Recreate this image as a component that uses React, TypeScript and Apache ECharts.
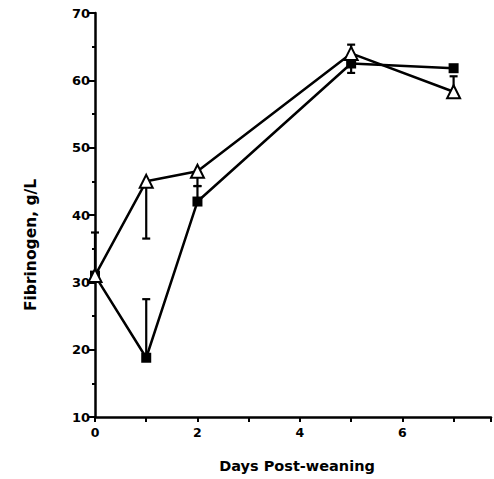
import React, { useEffect, useRef } from "react";
import * as echarts from "echarts";

const days = [0, 1, 2, 5, 7];
const triangleValues = [31, 45, 46.5, 64, 58.3];
const squareValues = [31, 18.8, 42, 62.5, 61.8];
const triangleErrEnd = [37.4, 36.5, 44.3, 65.3, 60.6];
const squareErrEnd = [null, 27.5, 44.3, 61.1, null];
const yTicks = [10, 20, 30, 40, 50, 60, 70];
const xLabelDays = [0, 2, 4, 6];

const FONT = "DejaVu Sans";

export default function App() {
  const ref = useRef<HTMLDivElement>(null);
  useEffect(() => {
    if (!ref.current) return;
    const chart = echarts.init(ref.current, undefined, { renderer: "svg" });

    const errData = (vals: number[], ends: (number | null)[]) =>
      days
        .map((d, i) => (ends[i] == null ? null : [d, vals[i], ends[i]]))
        .filter((x) => x != null);

    const renderErr = (params: any, api: any) => {
      const x = api.value(0);
      const p1 = api.coord([x, api.value(1)]);
      const p2 = api.coord([x, api.value(2)]);
      const cw = 4;
      return {
        type: "group",
        children: [
          {
            type: "line",
            shape: { x1: p1[0], y1: p1[1], x2: p2[0], y2: p2[1] },
            style: { stroke: "#000", lineWidth: 2.2 },
          },
          {
            type: "line",
            shape: { x1: p2[0] - cw, y1: p2[1], x2: p2[0] + cw, y2: p2[1] },
            style: { stroke: "#000", lineWidth: 2.2 },
          },
        ],
      };
    };

    chart.setOption({
      animation: false,
      backgroundColor: "#fff",
      grid: { left: 95, top: 13, right: 0, bottom: 62, containLabel: false },
      xAxis: {
        type: "value",
        min: 0,
        max: 7.73,
        interval: 1,
        axisLine: { show: true, lineStyle: { color: "#000", width: 2.5 } },
        axisTick: { show: true, length: 5, lineStyle: { color: "#000", width: 2 } },
        splitLine: { show: false },
        axisLabel: {
          color: "#000",
          fontFamily: FONT,
          fontWeight: "bold",
          fontSize: 12.5,
          margin: 9,
          formatter: (v: number) => (xLabelDays.includes(v) ? String(v) : ""),
        },
      },
      yAxis: {
        type: "value",
        min: yTicks[0],
        max: yTicks[yTicks.length - 1],
        interval: 10,
        axisLine: { show: true, lineStyle: { color: "#000", width: 2.5 } },
        axisTick: { show: true, length: 6, lineStyle: { color: "#000", width: 2 } },
        minorTick: { show: true, splitNumber: 2, length: 3, lineStyle: { color: "#000", width: 2 } },
        splitLine: { show: false },
        axisLabel: {
          color: "#000",
          fontFamily: FONT,
          fontWeight: "bold",
          fontSize: 13,
          margin: 5,
        },
      },
      graphic: [
        {
          type: "text",
          x: 297,
          y: 466,
          style: {
            text: "Days Post-weaning",
            fontFamily: FONT,
            fontWeight: "bold",
            fontSize: 14.5,
            fill: "#000",
            align: "center",
            verticalAlign: "middle",
          },
        },
        {
          type: "text",
          x: 31,
          y: 245,
          rotation: Math.PI / 2,
          style: {
            text: "Fibrinogen, g/L",
            fontFamily: FONT,
            fontWeight: "bold",
            fontSize: 15.5,
            fill: "#000",
            align: "center",
            verticalAlign: "middle",
          },
        },
      ],
      series: [
        {
          type: "custom",
          renderItem: renderErr,
          data: errData(squareValues, squareErrEnd),
          encode: { x: 0, y: [1, 2] },
          z: 1,
          silent: true,
        },
        {
          type: "custom",
          renderItem: renderErr,
          data: errData(triangleValues, triangleErrEnd),
          encode: { x: 0, y: [1, 2] },
          z: 1,
          silent: true,
        },
        {
          type: "line",
          data: days.map((d, i) => [d, squareValues[i]]),
          symbol: "rect",
          symbolSize: 10,
          lineStyle: { color: "#000", width: 2.5 },
          itemStyle: { color: "#000", borderColor: "#000", borderWidth: 0 },
          z: 2,
        },
        {
          type: "line",
          data: days.map((d, i) => [d, triangleValues[i]]),
          symbol: "triangle",
          symbolSize: 13,
          lineStyle: { color: "#000", width: 2.5 },
          itemStyle: { color: "#fff", borderColor: "#000", borderWidth: 2 },
          z: 3,
        },
      ],
    });
    return () => chart.dispose();
  }, []);

  return (
    <div
      ref={ref}
      style={{ position: "fixed", left: 0, top: 0, width: 494, height: 479, background: "#fff" }}
    />
  );
}
